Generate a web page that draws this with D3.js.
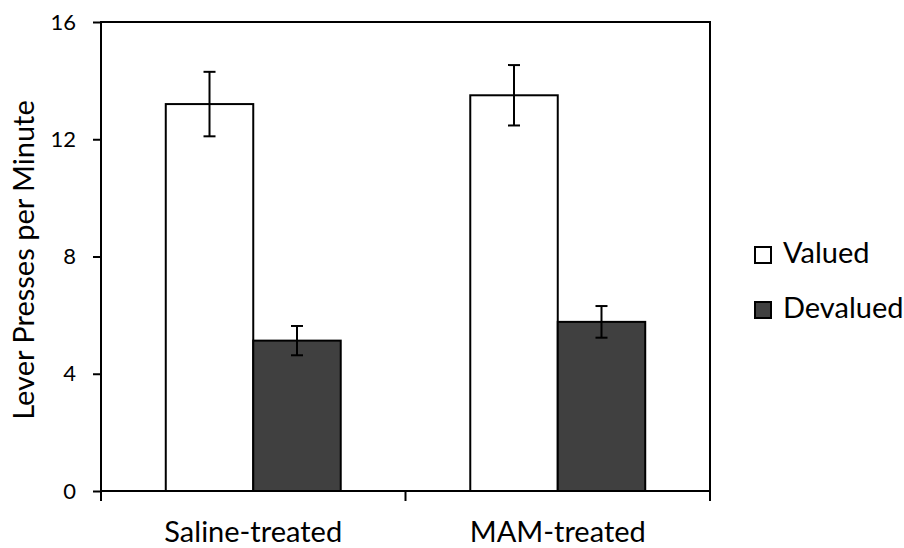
<!DOCTYPE html>
<html>
<head>
<meta charset="utf-8">
<script src="https://cdn.jsdelivr.net/npm/d3@7"></script>
<style>
  html, body { margin: 0; padding: 0; background: #fff; }
  svg text { font-family: Lato, "Open Sans", sans-serif; fill: #000; }
</style>
</head>
<body>
<svg id="chart" width="904" height="548"></svg>
<script>
// Lever pressing after outcome devaluation, by treatment group
const groups = ["Saline-treated", "MAM-treated"];
const conditions = ["Valued", "Devalued"];
const valuedMeans = [13.2, 13.5];
const valuedErrors = [1.1, 1.03];
const devaluedMeans = [5.13, 5.77];
const devaluedErrors = [0.5, 0.54];
const yTicks = [0, 4, 8, 12, 16];
const fills = ["#ffffff", "#404040"];

const rows = groups.map((g, i) => ({
  group: g,
  values: [
    { cond: conditions[0], mean: valuedMeans[i], err: valuedErrors[i] },
    { cond: conditions[1], mean: devaluedMeans[i], err: devaluedErrors[i] }
  ]
}));

const svg = d3.select("#chart");
const margin = { left: 101, top: 22, right: 194, bottom: 57 };
const W = 904, H = 548;
const x0 = margin.left, x1 = W - margin.right;
const y0 = H - margin.bottom, y1 = margin.top;

const x = d3.scaleBand().domain(groups).range([x0, x1]).padding(0);
// the pair of bars fills the middle of each category band
const xc = d3.scaleBand().domain(conditions)
  .range([x.bandwidth() * 0.2127, x.bandwidth() * 0.7873]).padding(0);
const y = d3.scaleLinear().domain([0, 16]).range([y0, y1]);

// frame around plot area
svg.append("rect")
  .attr("x", x0).attr("y", y1)
  .attr("width", x1 - x0).attr("height", y0 - y1)
  .attr("fill", "none").attr("stroke", "#000").attr("stroke-width", 2);

// bars
const g = svg.selectAll("g.grp").data(rows).join("g")
  .attr("class", "grp")
  .attr("transform", d => `translate(${x(d.group)},0)`);

g.selectAll("rect").data(d => d.values).join("rect")
  .attr("x", d => xc(d.cond))
  .attr("y", d => y(d.mean))
  .attr("width", xc.bandwidth())
  .attr("height", d => y(0) - y(d.mean))
  .attr("fill", (d, i) => fills[i])
  .attr("stroke", "#000").attr("stroke-width", 2);

// error bars
const eb = g.selectAll("g.err").data(d => d.values).join("g").attr("class", "err");
eb.append("line")
  .attr("x1", d => xc(d.cond) + xc.bandwidth() / 2)
  .attr("x2", d => xc(d.cond) + xc.bandwidth() / 2)
  .attr("y1", d => y(d.mean + d.err))
  .attr("y2", d => y(d.mean - d.err))
  .attr("stroke", "#000").attr("stroke-width", 2);
[1, -1].forEach(s => {
  eb.append("line")
    .attr("x1", d => xc(d.cond) + xc.bandwidth() / 2 - 6)
    .attr("x2", d => xc(d.cond) + xc.bandwidth() / 2 + 6)
    .attr("y1", d => y(d.mean + s * d.err))
    .attr("y2", d => y(d.mean + s * d.err))
    .attr("stroke", "#000").attr("stroke-width", 2);
});

// y axis
const yAxis = svg.append("g")
  .attr("transform", `translate(${x0},0)`)
  .call(d3.axisLeft(y).tickValues(yTicks).tickSize(8).tickPadding(17).tickFormat(d3.format("d")));
yAxis.select(".domain").remove();
yAxis.selectAll("line").attr("stroke", "#000").attr("stroke-width", 2);
yAxis.selectAll("text").attr("font-size", 22).style("font-family", "Lato, sans-serif");

// x axis: tick marks at band boundaries, labels at band centres
const bounds = [x0, ...groups.map(gr => x(gr) + x.bandwidth())];
svg.selectAll("line.xtick").data(bounds).join("line")
  .attr("class", "xtick")
  .attr("x1", d => d).attr("x2", d => d)
  .attr("y1", y0).attr("y2", y0 + 10)
  .attr("stroke", "#000").attr("stroke-width", 2);
svg.selectAll("text.xlab").data(groups).join("text")
  .attr("class", "xlab")
  .attr("x", d => x(d) + x.bandwidth() / 2)
  .attr("y", 542)
  .attr("text-anchor", "middle")
  .attr("font-size", 29)
  .text(d => d);

// y axis title
svg.append("text")
  .attr("transform", `translate(34,260) rotate(-90)`)
  .attr("text-anchor", "middle")
  .attr("font-size", 29)
  .text("Lever Presses per Minute");

// legend
const leg = svg.selectAll("g.leg").data(conditions).join("g")
  .attr("class", "leg")
  .attr("transform", (d, i) => `translate(755,${263 + i * 55})`);
leg.append("rect")
  .attr("x", 0).attr("y", -16).attr("width", 16).attr("height", 16)
  .attr("fill", (d, i) => fills[i]).attr("stroke", "#000").attr("stroke-width", 2);
leg.append("text")
  .attr("x", 28).attr("y", 0)
  .attr("font-size", 29)
  .text(d => d);
</script>
</body>
</html>
